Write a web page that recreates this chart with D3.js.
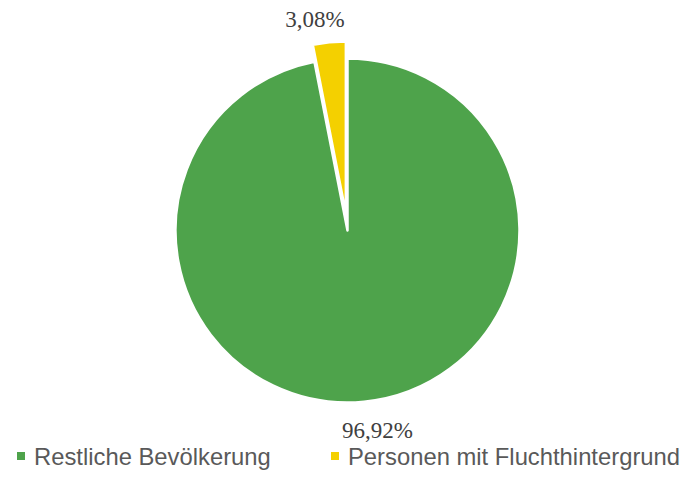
<!DOCTYPE html>
<html><head><meta charset="utf-8">
<script src="https://cdn.jsdelivr.net/npm/d3@7"></script>
<style>body{margin:0;background:#fff}</style>
</head><body>
<svg id="c" width="684" height="499"></svg>
<script>
const categories = ["Restliche Bevölkerung", "Personen mit Fluchthintergrund"];
const values = [96.92, 3.08];
const labels = ["96,92%", "3,08%"];
const colors = ["#4ea34b", "#f4d000"];

const svg = d3.select("#c");
const cx = 347.5, cy = 230.5, r = 172;
const pie = d3.pie().sort(null).value(d => d.v).startAngle(0).endAngle(2 * Math.PI);
const data = pie(categories.map((c, i) => ({c, v: values[i], i})));
const arc = d3.arc().innerRadius(0).outerRadius(r);
const g = svg.append("g").attr("transform", `translate(${cx},${cy})`);
const explode = [0, 17];
g.selectAll("path").data(data).join("path")
  .attr("d", arc)
  .attr("fill", d => colors[d.data.i])
  .attr("stroke", "#fff").attr("stroke-width", 2.5).attr("stroke-linejoin", "round")
  .attr("transform", d => {
    const a = (d.startAngle + d.endAngle) / 2, e = explode[d.data.i];
    return `translate(${e * Math.sin(a)},${-e * Math.cos(a)})`;
  });

// data labels
const labelPos = [[377.5, 437.5], [315, 27]];
svg.selectAll("text.lbl").data(data).join("text").attr("class", "lbl")
  .attr("x", d => labelPos[d.data.i][0]).attr("y", d => labelPos[d.data.i][1])
  .attr("text-anchor", "middle")
  .attr("font-family", "Liberation Serif, Times New Roman, serif")
  .attr("font-size", 23).attr("fill", "#404040")
  .text(d => labels[d.data.i]);

// legend
const legX = [17, 331];
const lg = svg.selectAll("g.leg").data(categories).join("g").attr("class", "leg")
  .attr("transform", (d, i) => `translate(${legX[i]},456)`);
lg.append("rect").attr("x", 0).attr("y", -4).attr("width", 8).attr("height", 8)
  .attr("fill", (d, i) => colors[i]);
lg.append("text").attr("x", 17).attr("y", 8.5)
  .attr("font-family", "Liberation Sans, Arial, sans-serif")
  .attr("font-size", 23.8).attr("fill", "#595959")
  .text(d => d);
</script>
</body></html>
